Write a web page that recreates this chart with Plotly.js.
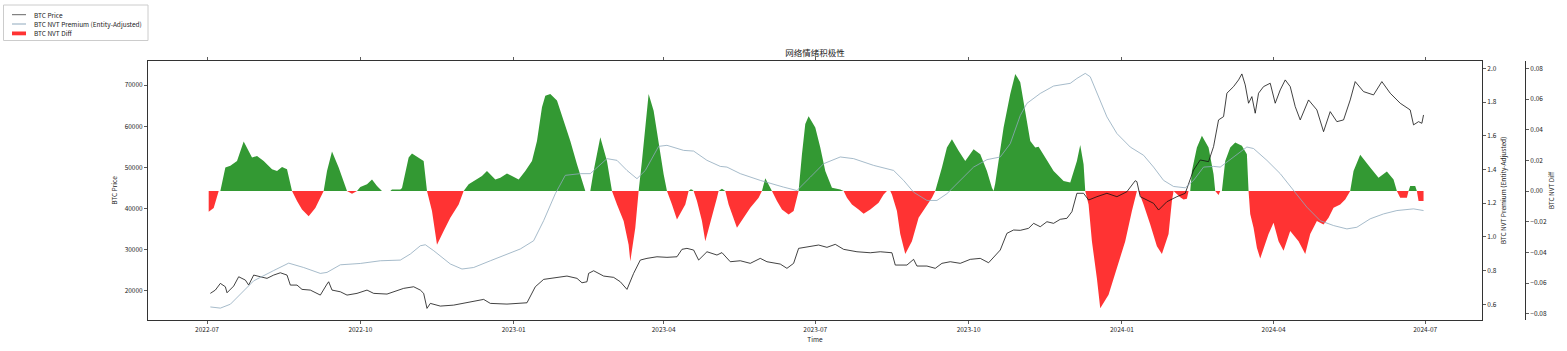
<!DOCTYPE html>
<html>
<head>
<meta charset="utf-8">
<script src="https://cdn.plot.ly/plotly-3.0.1.min.js"></script>
<style>html,body{margin:0;padding:0;background:#fff}#chart{width:1567px;height:351px}</style>
</head>
<body>
<div id="chart"></div>
<script>
// Day offsets are counted from 2022-07-01
const baseDate = '2022-07-01';

const priceDays = [2,5,8,11,12,16,19,23,25,28,32,36,40,44,48,50,54,57,62,68,72,73,75,80,84,90,96,100,108,118,124,128,130,131,132,134,140,148,156,166,170,180,192,197,202,210,216,222,225,228,229,232,238,244,248,252,256,260,264,270,276,282,285,288,292,295,300,306,309,314,320,326,332,336,340,344,348,352,355,360,367,372,377,382,390,398,404,411,413,420,424,426,432,437,441,446,452,458,464,469,473,476,480,484,488,493,496,500,504,508,512,516,519,522,526,529,534,540,546,552,557,558,560,564,568,571,576,582,587,592,596,601,604,607,610,612,616,619,621,623,625,627,629,631,634,638,641,644,647,650,653,656,661,666,670,674,678,682,686,689,694,700,705,710,716,722,724,727,729,730];
const priceVals = [19270,20070,21700,20880,19420,21050,23320,22510,21290,23730,23320,22930,23730,24290,23730,21290,21290,20240,20070,18850,21540,22100,20070,19660,18850,19270,20070,19270,19100,20490,20880,20070,19270,17630,15610,16830,16170,16410,16980,17800,16830,16660,16980,20880,22680,23170,23490,22930,21850,22100,24150,24780,23490,23170,22100,20240,24150,27390,27800,28190,28050,28190,30000,30240,29830,27390,29410,28610,29200,26980,27220,26590,27800,26980,26730,26410,25370,26590,30240,30630,31050,30490,31220,30000,29410,29170,29410,29170,26170,26170,27560,25930,25930,25370,26590,26980,26590,27560,27800,26730,28610,29830,33900,34710,34630,35120,36340,35510,36730,36340,37320,37560,39170,43660,43660,42020,42830,43660,42830,44050,46730,46490,42830,42020,41220,39580,41610,42830,43660,49340,51780,51370,55030,61540,62340,68050,69660,71290,72750,70070,65610,67220,63170,68050,69660,70480,65610,68850,71290,69660,64780,61540,66410,63980,58680,63560,61120,61540,66410,70880,68440,67630,70880,68050,65610,63980,60330,61120,60720,62750];

const premiumDays = [2,8,14,20,28,40,49,58,68,72,80,92,104,116,122,128,131,136,146,153,160,170,180,188,196,202,209,215,224,230,240,246,252,258,263,271,276,286,292,300,308,312,320,332,346,354,362,370,380,388,400,412,418,424,432,438,444,452,460,468,476,482,488,492,500,508,518,522,527,530,534,540,546,554,562,568,574,580,587,592,598,604,608,616,624,628,636,644,652,660,668,676,684,690,698,706,714,724,730];
const premiumVals = [0.584,0.577,0.600,0.660,0.739,0.800,0.844,0.818,0.783,0.789,0.834,0.842,0.858,0.862,0.898,0.947,0.953,0.918,0.839,0.809,0.818,0.858,0.898,0.928,0.977,1.096,1.256,1.365,1.375,1.375,1.464,1.454,1.394,1.345,1.394,1.537,1.543,1.513,1.509,1.454,1.418,1.414,1.375,1.335,1.295,1.275,1.354,1.434,1.474,1.464,1.424,1.394,1.335,1.265,1.216,1.216,1.256,1.335,1.414,1.458,1.474,1.553,1.720,1.792,1.851,1.895,1.911,1.940,1.970,1.950,1.851,1.712,1.613,1.533,1.484,1.414,1.335,1.299,1.291,1.335,1.414,1.418,1.414,1.474,1.533,1.524,1.454,1.375,1.275,1.176,1.096,1.067,1.047,1.057,1.107,1.136,1.156,1.166,1.156];

const diffDays = [1,4,7,8,11,14,18,22,27,30,34,39,42,45,48,51,54,57,61,65,68,70,72,75,79,83,84,87,90,92,96,99,102,105,110,111,116,117,119,121,123,128,130,132,135,137,138,142,146,151,154,157,162,165,168,173,176,180,183,187,191,195,198,201,203,206,210,214,218,222,224,226,227,230,232,236,240,243,246,250,253,254,257,259,261,263,265,268,271,274,276,279,282,287,289,290,291,292,294,297,299,303,306,307,309,311,313,316,318,322,326,331,333,335,339,342,345,349,352,355,357,359,361,365,368,371,375,380,382,384,387,391,394,398,403,406,408,410,411,414,416,419,423,427,431,435,437,441,444,447,451,455,460,464,468,471,472,473,475,478,482,485,488,491,494,497,499,503,508,514,518,522,524,526,527,529,531,534,536,541,546,551,555,558,559,562,566,570,573,577,579,580,584,586,588,589,590,591,594,597,601,604,605,607,608,609,611,614,617,621,624,625,626,628,630,632,637,640,643,646,650,655,659,662,666,670,673,676,680,683,686,688,692,698,703,708,712,714,716,720,721,722,725,726,727,730];
const diffVals = [-0.0135,-0.011,0,0,0.0153,0.0165,0.0196,0.0323,0.0218,0.0229,0.0196,0.0142,0.0131,0.0157,0.0142,0,-0.0065,-0.012,-0.0164,-0.011,-0.0044,0,0.013,0.0258,0.0153,0.0033,0,-0.0017,0,0.0026,0.0044,0.0076,0.0033,0,0,0.001,0.001,0.002,0.013,0.0218,0.0245,0.0207,0.0196,0,-0.013,-0.026,-0.035,-0.026,-0.0175,-0.0087,0,0.0044,0.0076,0.0098,0.013,0.0076,0.0087,0.0114,0.0098,0.0076,0.013,0.0196,0.0327,0.0546,0.0622,0.0633,0.059,0.0458,0.0327,0.0175,0.011,0.0044,0,0,0.013,0.035,0.0196,0,-0.0087,-0.0196,-0.035,-0.0458,-0.024,0,0.0196,0.0415,0.0633,0.0524,0.0306,0.0109,0,-0.0087,-0.0186,-0.0087,0,0.001,0.001,0,-0.0065,-0.0196,-0.0327,-0.0175,-0.0044,0,0.0015,0,-0.0087,-0.0186,-0.024,-0.0175,-0.0109,-0.0044,0,0.0083,0,-0.0065,-0.012,-0.0153,-0.013,0,0.024,0.0437,0.0487,0.0415,0.0284,0.0131,0.0022,0.001,0,-0.0044,-0.0087,-0.012,-0.0148,-0.012,-0.0076,-0.0022,0,0,-0.0022,-0.013,-0.028,-0.041,-0.0327,-0.0175,-0.0109,-0.0044,0,0.0153,0.0284,0.0338,0.0262,0.0196,0.0273,0.024,0.0131,0.0022,0,0.005,0.0196,0.0415,0.0633,0.0764,0.071,0.0524,0.0327,0.0284,0.0288,0.0218,0.0131,0.0066,0.0055,0.0196,0.0301,0.0175,0,-0.0087,-0.0327,-0.057,-0.0764,-0.0677,-0.05,-0.0327,-0.013,0,0,-0.0087,-0.0218,-0.036,-0.041,-0.028,-0.0065,0,-0.004,-0.0055,-0.005,0,0,0.013,0.0284,0.036,0.0284,0.0109,0,-0.0026,0,0,0.0196,0.0284,0.0317,0.0295,0.024,0,-0.015,-0.024,-0.037,-0.044,-0.028,-0.0207,-0.0327,-0.039,-0.026,-0.0327,-0.041,-0.028,-0.0196,-0.0218,-0.0175,-0.0109,-0.0087,-0.0055,0,0.013,0.0236,0.0153,0.0087,0.0127,0.0076,0,-0.0044,-0.0044,0,0.0033,0.0033,0,-0.0065,-0.0065];

const priceTicks = [20000,30000,40000,50000,60000,70000];
const premiumTicks = [0.6,0.8,1.0,1.2,1.4,1.6,1.8,2.0];
const diffTicks = [-0.08,-0.06,-0.04,-0.02,0,0.02,0.04,0.06,0.08];

const titleText = '网络情绪积极性';
const seriesNames = ['BTC Price', 'BTC NVT Premium (Entity-Adjusted)', 'BTC NVT Diff'];

const base = Date.parse(baseDate + 'T00:00:00Z');
const toDate = d => new Date(base + d * 86400000).toISOString().slice(0, 10);

const FONT = '"Noto Sans CJK SC", "Noto Sans", sans-serif';
const AX = '#333333';
const PRICE_C = '#111111', PREM_C = '#8fa9bd', NEG_C = '#ff3333', POS_C = '#339933';

const traces = [
  {type:'scatter', mode:'lines', name:seriesNames[0], x:priceDays.map(toDate), y:priceVals, yaxis:'y2',
   line:{color:PRICE_C, width:0.8}},
  {type:'scatter', mode:'lines', name:seriesNames[1], x:premiumDays.map(toDate), y:premiumVals, yaxis:'y3',
   line:{color:PREM_C, width:0.8}},
  {type:'scatter', mode:'lines', name:seriesNames[2], x:diffDays.map(toDate), y:diffVals.map(v => Math.min(v, 0)), yaxis:'y',
   fill:'tozeroy', fillcolor:NEG_C, line:{width:0, color:NEG_C}},
  {type:'scatter', mode:'lines', name:seriesNames[2] + ' (+)', x:diffDays.map(toDate), y:diffVals.map(v => Math.max(v, 0)), yaxis:'y',
   fill:'tozeroy', fillcolor:POS_C, line:{width:0, color:POS_C}}
];

const tickFont = {family:FONT, size:6.5, color:'#222'};
const titleFont = {family:FONT, size:6.5, color:'#222'};
const common = {showgrid:false, zeroline:false, showline:true, linecolor:AX, linewidth:1,
  ticks:'outside', ticklen:3, tickwidth:0.8, tickcolor:AX, tickfont:tickFont};

const L = 148, R = 20, T = 61, B = 31, W = 1567, H = 351;
const plotW = W - L - R, plotH = H - T - B;
const px = x => (x - L) / plotW;   // pixel -> paper x
const py = y => (H - B - y) / plotH; // pixel -> paper y

// Hand-drawn legend box (matplotlib-style compact legend)
const legendRows = [14.7, 24, 33.3];
const shapes = [
  {type:'rect', xref:'paper', yref:'paper', x0:px(3.5), x1:px(148), y0:py(5), y1:py(40.5),
   line:{color:'#cccccc', width:1}, fillcolor:'#ffffff', layer:'above'},
  {type:'line', xref:'paper', yref:'paper', x0:px(12), x1:px(26), y0:py(legendRows[0]), y1:py(legendRows[0]),
   line:{color:'#666666', width:1}, layer:'above'},
  {type:'line', xref:'paper', yref:'paper', x0:px(12), x1:px(26), y0:py(legendRows[1]), y1:py(legendRows[1]),
   line:{color:PREM_C, width:1}, layer:'above'},
  {type:'rect', xref:'paper', yref:'paper', x0:px(12), x1:px(26), y0:py(legendRows[2] - 1.8), y1:py(legendRows[2] + 2),
   line:{width:0}, fillcolor:NEG_C, layer:'above'}
];
const annotations = seriesNames.map((name, i) => ({
  text:name, xref:'paper', yref:'paper', x:px(32), y:py(legendRows[i]), xanchor:'left', yanchor:'middle',
  showarrow:false, font:{family:FONT, size:6.5, color:'#222'}
}));

const layout = {
  width:W, height:H,
  margin:{l:L, r:R, t:T, b:B, pad:0, autoexpand:false},
  paper_bgcolor:'#ffffff', plot_bgcolor:'#ffffff',
  font:{family:FONT, size:6.5, color:'#222'},
  showlegend:false,
  hovermode:false,
  title:{text:titleText, font:{family:FONT, size:8.5, color:'#222'}, x:(L + 1334 / 2) / W, xref:'container', xanchor:'center', y:(H - 53) / H, yref:'container', yanchor:'middle'},
  shapes:shapes,
  annotations:annotations,
  xaxis: Object.assign({}, common, {type:'date', domain:[0, 1334/plotW], anchor:'y',
    range:['2022-05-26 14:00', '2024-08-04 02:00'], tick0:'2022-07-01', dtick:'M3', tickformat:'%Y-%m', mirror:'ticks',
    title:{text:'Time', font:titleFont, standoff:3}}),
  yaxis: Object.assign({}, common, {side:'right', anchor:'free', position:(1525 - L) / plotW,
    range:[-0.0841, 0.0848], tickmode:'array', tickvals:diffTicks, tickformat:'.2f',
    title:{text:'BTC NVT Diff', font:titleFont, standoff:3}}),
  yaxis2: Object.assign({}, common, {side:'left', anchor:'x', overlaying:'y',
    range:[12780, 75900], tickmode:'array', tickvals:priceTicks, tickformat:'d',
    title:{text:'BTC Price', font:titleFont, standoff:6}}),
  yaxis3: Object.assign({}, common, {side:'right', anchor:'x', overlaying:'y',
    range:[0.5065, 2.0435], tickmode:'array', tickvals:premiumTicks, tickformat:'.1f',
    title:{text:'BTC NVT Premium (Entity-Adjusted)', font:titleFont, standoff:5}})
};

Plotly.newPlot('chart', traces, layout, {staticPlot:true, displayModeBar:false});
</script>
</body>
</html>
